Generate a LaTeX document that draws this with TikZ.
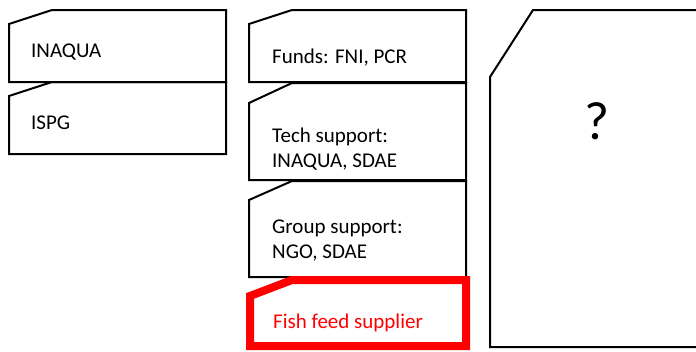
\documentclass[tikz,border=0pt]{standalone}
\usepackage{fontspec}
\setmainfont{Carlito}
\begin{document}
\begin{tikzpicture}[x=1pt,y=-1pt,
  box/.style={draw=black,line width=2pt,line join=miter},
  redbox/.style={draw=red,line width=8pt,line join=miter},
  lbl/.style={anchor=base west,inner sep=0pt,font=\fontsize{21}{25.6}\selectfont},
]
\useasboundingbox (0,0) rectangle (696,351);
% left column
\draw[box] (9,24) -- (52,10) -- (226,10) -- (226,82) -- (9,82) -- cycle;
\draw[box] (9,96) -- (52,82) -- (226,82) -- (226,154) -- (9,154) -- cycle;
\node[lbl] (inaqua) at (31,57) {INAQUA};
\node[lbl] (ispg) at (31,129) {ISPG};
% middle column
\draw[box] (249,24) -- (292,10) -- (466,10) -- (466,82) -- (249,82) -- cycle;
\draw[box] (249,103) -- (292,83) -- (466,83) -- (466,180) -- (249,180) -- cycle;
\draw[box] (249,200) -- (292,181) -- (466,181) -- (466,277) -- (249,277) -- cycle;
\draw[redbox] (250,296) -- (292,280) -- (466,280) -- (466,346) -- (250,346) -- cycle;
\node[lbl] (funds) at (272,63) {Funds: FNI, PCR};
\node[lbl] (tech) at (272,142) {\vtop{\hbox{Tech support:}\hbox{INAQUA, SDAE}}};
\node[lbl] (group) at (272,233) {\vtop{\hbox{Group support:}\hbox{NGO, SDAE}}};
\node[lbl,text=red] (fish) at (273,328) {Fish feed supplier};
% right box
\draw[box] (696,10) -- (533,10) -- (490,77) -- (490,347) -- (696,347);
\node[anchor=base,inner sep=0pt,font=\fontsize{54}{60}\selectfont] (q) at (597,139) {?};
\end{tikzpicture}
\end{document}
